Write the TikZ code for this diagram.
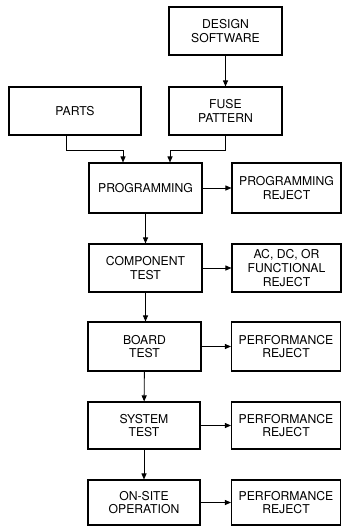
\documentclass[tikz,border=0pt]{standalone}
\usepackage{fontspec}
\setmainfont{TeX Gyre Heros}
\usetikzlibrary{arrows.meta}
\begin{document}
\begin{tikzpicture}[x=1pt,y=1pt,
  blk/.style={draw, line width=1.1pt, inner sep=0pt, align=center,
    font=\fontsize{12.2}{13.8}\selectfont, minimum width=113pt, minimum height=48pt},
  rej/.style={blk, minimum width=109pt},
  arr/.style={line width=0.9pt, -{Triangle[length=6pt,width=5pt]}}]
\useasboundingbox (0,0) rectangle (342,-527);
\node[blk] (design) at (225.5,-31) {DESIGN\\SOFTWARE};
\node[blk] (fuse) at (225.5,-111) {FUSE\\PATTERN};
\node[blk, minimum width=132pt] (parts) at (75,-111) {PARTS};
\node[blk, minimum height=50pt] (prog) at (145.5,-188) {PROGRAMMING};
\node[rej, minimum height=50pt] (progrej) at (286.5,-188) {PROGRAMMING\\REJECT};
\node[blk] (comp) at (145.5,-268) {COMPONENT\\TEST};
\node[rej] (comprej) at (286.5,-268) {AC, DC, OR\\FUNCTIONAL\\REJECT};
\node[blk, minimum height=49pt] (board) at (144.5,-346.5) {BOARD\\TEST};
\node[rej, minimum height=49pt] (boardrej) at (286,-346.5) {PERFORMANCE\\REJECT};
\node[blk, minimum width=112pt, minimum height=47pt] (sys) at (144,-425.5) {SYSTEM\\TEST};
\node[rej, minimum height=47pt] (sysrej) at (286,-425.5) {PERFORMANCE\\REJECT};
\node[blk, minimum width=112pt, minimum height=45pt] (site) at (144,-502.5) {ON-SITE\\OPERATION};
\node[rej, minimum height=45pt] (siterej) at (286,-502.5) {PERFORMANCE\\REJECT};
\draw[arr] (design) -- (fuse);
\draw[arr] ([xshift=-9pt]parts.south) -- ++(0,-15) -| ([xshift=-22.5pt]prog.north);
\draw[arr] (fuse.south) -- ++(0,-15) -| ([xshift=24.5pt]prog.north);
\draw[arr] (prog) -- (progrej);
\draw[arr] (prog) -- (comp);
\draw[arr] (comp) -- (comprej);
\draw[arr] (comp.south) -- (comp.south |- board.north);
\draw[arr] (board) -- (boardrej);
\draw[arr] (board) -- (sys);
\draw[arr] (sys) -- (sysrej);
\draw[arr] (sys) -- (site);
\draw[arr] (site) -- (siterej);
\end{tikzpicture}
\end{document}
